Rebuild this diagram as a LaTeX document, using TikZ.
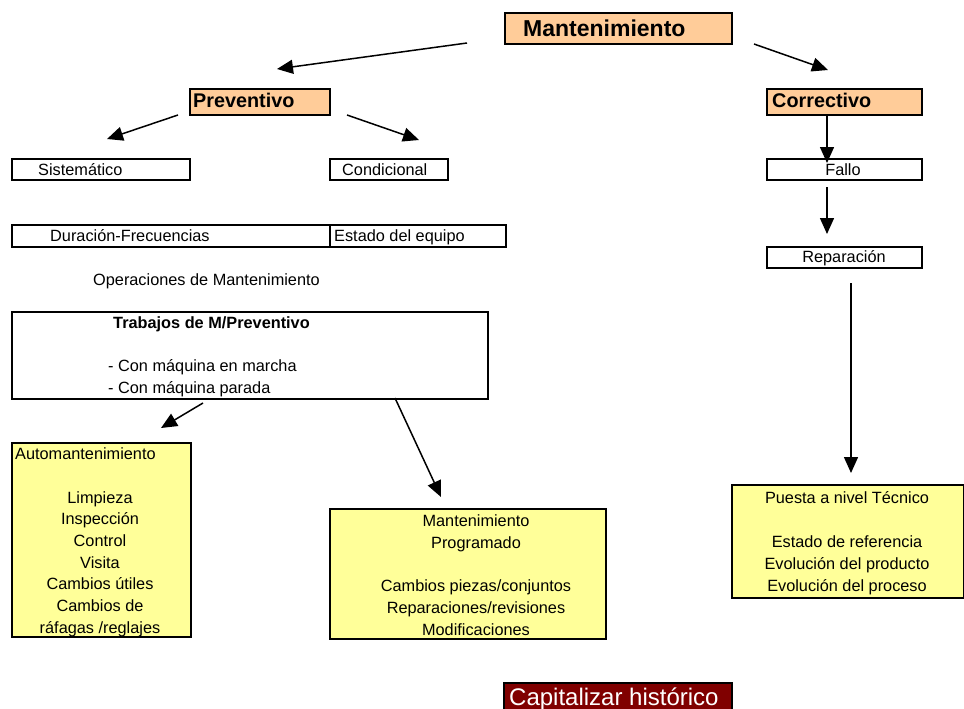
\documentclass[tikz,border=0pt]{standalone}
\usepackage{fontspec}
\setmainfont{Liberation Sans}
\usetikzlibrary{arrows.meta}

\definecolor{peach}{HTML}{FFCC99}
\definecolor{paleyellow}{HTML}{FFFF99}
\definecolor{darkmaroon}{HTML}{800000}

\tikzset{
  cell/.style={draw=black, line width=1.6pt, inner sep=0pt, anchor=north west, fill=white},
  head/.style={cell, fill=peach},
  note/.style={cell, fill=paleyellow},
  dark/.style={cell, fill=darkmaroon},
  txt/.style={inner sep=0pt, font=\fontsize{16.3}{20}\selectfont},
  btxt/.style={inner sep=0pt, font=\fontsize{16.3}{20}\selectfont\bfseries},
  htxt/.style={inner sep=0pt, font=\fontsize{19.8}{24}\selectfont\bfseries},
  arr/.style={line width=1.5pt, -{Triangle[length=16pt,width=14pt]}}
}

\begin{document}
\begin{tikzpicture}[x=1pt,y=-1pt]
  \clip (0,0) rectangle (964,709);
  \fill[white] (0,0) rectangle (964,709);

  % top level
  \node[head, minimum width=227pt, minimum height=31pt] (mant) at (504,12) {};
  \node[inner sep=0pt, anchor=base west, font=\fontsize{23}{27}\selectfont\bfseries] (mantT) at (523,37) {Mantenimiento};

  % preventive branch
  \node[head, minimum width=140pt, minimum height=26pt] (prev) at (189,88) {};
  \node[htxt, anchor=base west] (prevT) at (193,107) {Preventivo};

  \node[cell, minimum width=178pt, minimum height=21pt] (sist) at (11,158) {};
  \node[txt, anchor=base west] (sistT) at (38,175) {Sistemático};
  \node[cell, minimum width=118pt, minimum height=21pt] (cond) at (329,158) {};
  \node[txt, anchor=base west] (condT) at (342,175) {Condicional};

  \node[cell, minimum width=318pt, minimum height=22pt] (dur) at (11,224) {};
  \node[txt, anchor=base west] (durT) at (50,241) {Duración-Frecuencias};
  \node[cell, minimum width=176pt, minimum height=22pt] (est) at (329,224) {};
  \node[txt, anchor=base west] (estT) at (334,241) {Estado del equipo};

  \node[txt, anchor=base west] (oper) at (93,285) {Operaciones de Mantenimiento};

  \node[cell, minimum width=476pt, minimum height=87pt] (trab) at (11,311) {};
  \node[btxt, anchor=base west] (trabT) at (113,328) {Trabajos de M/Preventivo};
  \node[txt, anchor=base west] (trab1) at (108,371) {- Con máquina en marcha};
  \node[txt, anchor=base west] (trab2) at (108,393) {- Con máquina parada};

  \node[note, minimum width=179pt, minimum height=194pt] (auto) at (11,442) {};
  \node[txt, anchor=base west] (autoT) at (15,459) {Automantenimiento};
  \foreach \t [count=\i from 0] in {Limpieza, Inspección, Control, Visita,
      Cambios útiles, Cambios de, ráfagas /reglajes}
    \node[txt, anchor=base] (auto\i) at (100,503+21.7*\i) {\t};

  \node[note, minimum width=276pt, minimum height=130pt] (prog) at (329,508) {};
  \foreach \t/\y [count=\i] in {Mantenimiento/526, Programado/548,
      Cambios piezas\slash conjuntos/591, Reparaciones\slash revisiones/613,
      Modificaciones/635}
    \node[txt, anchor=base] (prog\i) at (476,\y) {\t};

  % corrective branch
  \node[head, minimum width=155pt, minimum height=26pt] (corr) at (766,88) {};
  \node[htxt, anchor=base west] (corrT) at (772,107) {Correctivo};

  \node[cell, minimum width=155pt, minimum height=21pt] (fallo) at (766,158) {};
  \node[txt, anchor=base] (falloT) at (843,175) {Fallo};

  \node[cell, minimum width=155pt, minimum height=21pt] (rep) at (766,246) {};
  \node[txt, anchor=base] (repT) at (844,262) {Reparación};

  \node[note, minimum width=232pt, minimum height=113pt] (puesta) at (731,484) {};
  \foreach \t/\y [count=\i] in {Puesta a nivel Técnico/503, Estado de referencia/547,
      Evolución del producto/569, Evolución del proceso/591}
    \node[txt, anchor=base] (puesta\i) at (847,\y) {\t};

  % history record
  \node[dark, minimum width=228pt, minimum height=33pt] (cap) at (503,682) {};
  \node[inner sep=0pt, anchor=base west, text=white, font=\fontsize{24}{28}\selectfont] (capT) at (509,705) {Capitalizar histórico};

  % arrow end points
  \coordinate (m1) at (467,43);  \coordinate (m1e) at (277,69);
  \coordinate (m2) at (754,44);  \coordinate (m2e) at (828,70);
  \coordinate (p1) at (178,115); \coordinate (p1e) at (107,139);
  \coordinate (p2) at (347,115); \coordinate (p2e) at (419,140);
  \coordinate (c1) at (827,114); \coordinate (c1e) at (827,163);
  \coordinate (c2) at (827,187); \coordinate (c2e) at (827,234);
  \coordinate (c3) at (851,283); \coordinate (c3e) at (851,473);
  \coordinate (t1) at (203,403); \coordinate (t1e) at (161,428);
  \coordinate (t2) at (395,398); \coordinate (t2e) at (441,497);

  \draw[arr] (m1) -- (m1e);
  \draw[arr] (m2) -- (m2e);
  \draw[arr] (p1) -- (p1e);
  \draw[arr] (p2) -- (p2e);
  \draw[arr] (c1) -- (c1e);
  \draw[arr] (c2) -- (c2e);
  \draw[arr] (c3) -- (c3e);
  \draw[arr] (t1) -- (t1e);
  \draw[arr] (t2) -- (t2e);
\end{tikzpicture}
\end{document}
